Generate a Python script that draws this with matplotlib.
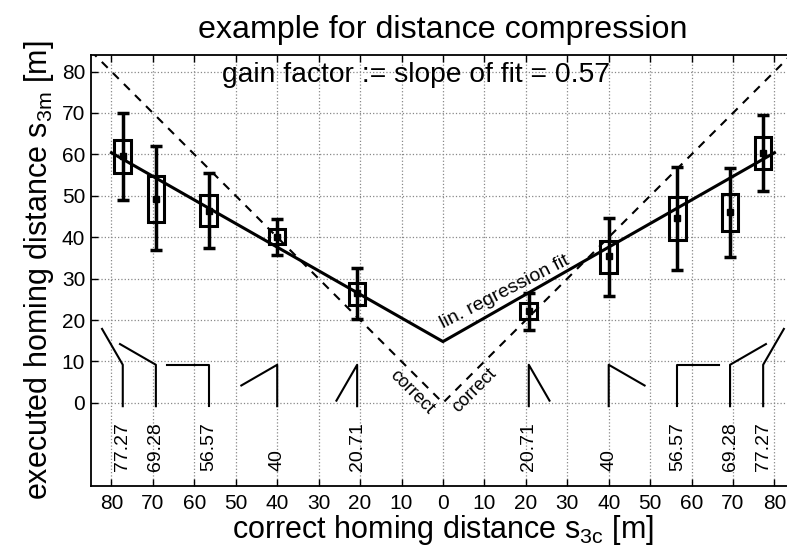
import numpy as np
import matplotlib.pyplot as plt

plt.rcParams['font.family'] = ['Liberation Sans', 'DejaVu Sans']
plt.rcParams['mathtext.default'] = 'regular'

# correct homing distances (right half +x, left half mirrored to -x)
dist = [20.71, 40, 56.57, 69.28, 77.27]
# turning angle between the two outbound legs for each distance
turn_angle = [30, 60, 90, 120, 150]

# executed homing distance, left half (negative x)
mean_left = [26.6, 40.0, 46.4, 49.3, 59.6]
box_lo_left = [23.7, 38.4, 42.7, 43.7, 55.5]
box_hi_left = [29.0, 41.9, 50.1, 54.9, 63.4]
err_lo_left = [20.3, 35.8, 37.3, 36.9, 49.1]
err_hi_left = [32.6, 44.5, 55.5, 62.0, 69.9]

# executed homing distance, right half (positive x)
mean_right = [22.2, 35.4, 44.7, 46.0, 60.4]
box_lo_right = [20.2, 31.4, 39.3, 41.4, 56.5]
box_hi_right = [24.0, 39.0, 49.7, 50.5, 64.3]
err_lo_right = [17.7, 25.9, 32.2, 35.2, 51.1]
err_hi_right = [26.5, 44.7, 57.0, 56.8, 69.6]

fit_slope = 0.57
fit_intercept = 14.8
fit_x = [-80, 0, 80]
diag_x = [-85, 0, 85]

fig = plt.figure(figsize=(7.87, 5.51), dpi=100)
ax = fig.add_axes([0.1153, 0.1185, 0.8951, 0.7817])

# dashed "correct" line y = |x|
ax.plot(diag_x, np.abs(diag_x), 'k--', lw=1.5, dashes=(4, 3.5))

# regression fit
fit_x = np.array(fit_x)
ax.plot(fit_x, fit_intercept + fit_slope * np.abs(fit_x), 'k-', lw=2.2)

for sign, mean, blo, bhi, elo, ehi in [
    (-1, mean_left, box_lo_left, box_hi_left, err_lo_left, err_hi_left),
    (1, mean_right, box_lo_right, box_hi_right, err_lo_right, err_hi_right),
]:
    x = sign * np.array(dist)
    mean = np.array(mean)
    blo = np.array(blo)
    bhi = np.array(bhi)
    ax.bar(x, bhi - blo, bottom=blo, width=4, fill=False,
           edgecolor='k', lw=2.2, zorder=3)
    ax.errorbar(x, mean, yerr=[mean - np.array(elo), np.array(ehi) - mean],
                fmt='s', color='k', ms=5, lw=2.5, capsize=4.2, capthick=2.5,
                zorder=4)

    # little path icons: first leg vertical, second leg turned by angle
    leg = 10
    base = -0.8
    for d, ang in zip(dist, turn_angle):
        x0 = sign * d
        a = np.radians(ang)
        px = [x0, x0, x0 + sign * leg * np.sin(a)]
        py = [base, base + leg, base + leg - leg * np.cos(a)]
        ax.plot(px, py, 'k-', lw=1.5)
        ax.text(x0, -16.5, f"{d:g}", rotation=90, ha='center', va='bottom',
                fontsize=14)

ax.text(-6.4, 79.2, 'gain factor := slope of fit = 0.57', ha='center',
        va='center', fontsize=20.3)
ax.text(15.3, 25.7, 'lin. regression fit', rotation=27,
        rotation_mode='anchor', ha='center', va='baseline', fontsize=14)
ax.text(-7.4, 2.5, 'correct', rotation=-45, rotation_mode='anchor',
        ha='center', va='center', fontsize=13)
ax.text(7.6, 3.0, 'correct', rotation=45, rotation_mode='anchor',
        ha='center', va='center', fontsize=13)

ax.set_xlim(-85, 85)
ax.set_ylim(-20, 84)
xt = np.arange(-80, 81, 10)
ax.set_xticks(xt)
ax.set_xticklabels([str(abs(t)) for t in xt])
ax.set_yticks(np.arange(0, 81, 10))
ax.tick_params(direction='in', length=5, width=1, top=True, right=False,
               labelsize=15)
ax.tick_params(axis='x', pad=6)
ax.tick_params(axis='y', pad=4)
ax.grid(True, ls=':', color='#888888', lw=0.9)
for sp in ax.spines.values():
    sp.set_linewidth(1.3)
ax.spines['right'].set_visible(False)

ax.set_title('example for distance compression', fontsize=23.2, pad=12)
ax.set_xlabel('correct homing distance s$_{3c}$ [m]', fontsize=22, labelpad=0)
ax.set_ylabel('executed homing distance s$_{3m}$ [m]', fontsize=22, labelpad=4)

fig.savefig('out.png', dpi=100)
